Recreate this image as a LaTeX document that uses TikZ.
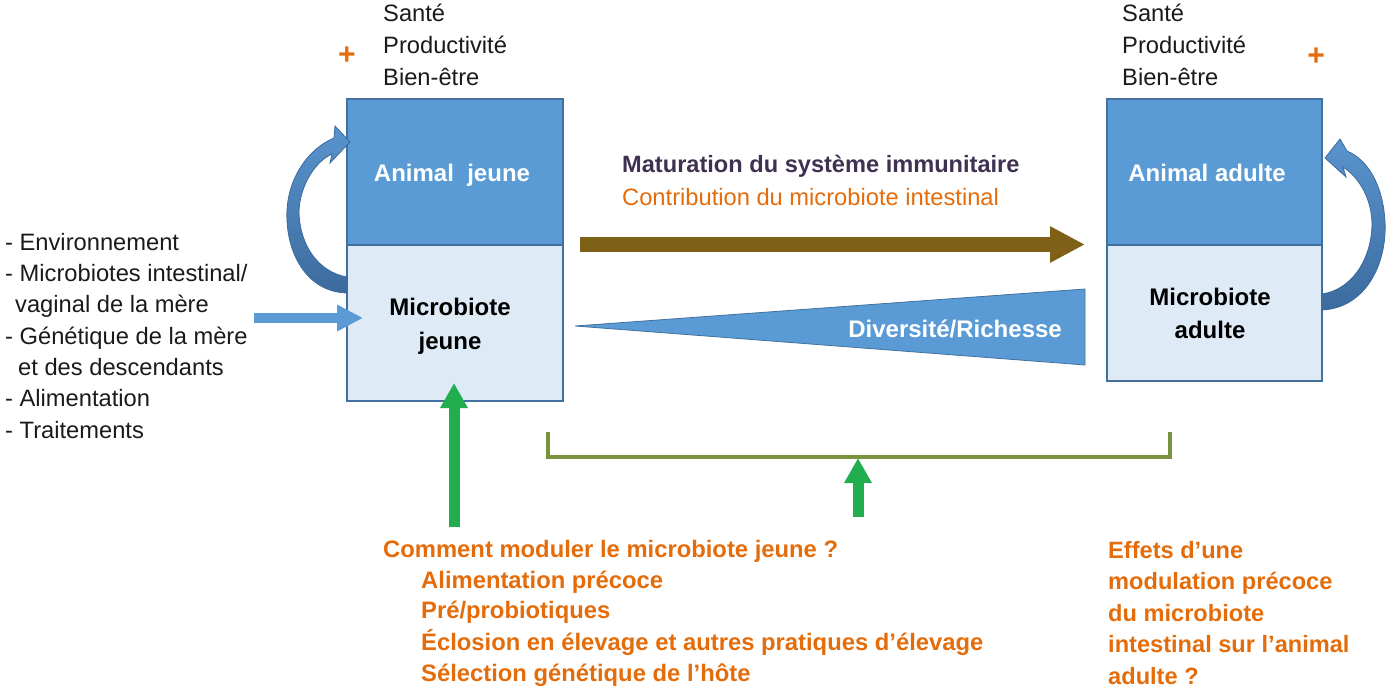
\documentclass[tikz,border=0pt]{standalone}
\usepackage{fontspec}
\setmainfont{Liberation Sans}
\usetikzlibrary{arrows.meta}
\definecolor{boxdark}{HTML}{5B9BD5}
\definecolor{boxlight}{HTML}{DEEBF7}
\definecolor{boxline}{HTML}{41719C}
\definecolor{orng}{HTML}{E46C0A}
\definecolor{purp}{HTML}{3F3151}
\definecolor{brwn}{HTML}{7F6017}
\definecolor{grn}{HTML}{22AE4E}
\definecolor{olivegr}{HTML}{77933C}
\definecolor{txt}{HTML}{1A1A1A}
\definecolor{curvetop}{HTML}{5A94CE}
\definecolor{curvebot}{HTML}{3C6B9E}
\begin{document}
\begin{tikzpicture}[x=1pt,y=-1pt,
  tx/.style={anchor=base west, inner sep=0, text=txt, font=\fontsize{23.7}{29}\selectfont},
  txb/.style={anchor=base west, inner sep=0, font=\fontsize{23.6}{29}\selectfont\bfseries},
  txo/.style={anchor=base west, inner sep=0, text=orng, font=\fontsize{23.8}{29}\selectfont\bfseries},
  txc/.style={anchor=base, inner sep=0, font=\fontsize{24}{29}\selectfont\bfseries},
  boxtop/.style={draw=boxline, line width=1.5, fill=boxdark, inner sep=0},
  boxbot/.style={draw=boxline, line width=1.5, fill=boxlight, inner sep=0},
  curvearrow/.style={top color=curvetop, bottom color=curvebot, draw=curvebot, line width=0.8},
  plussign/.style={anchor=center, inner sep=0, text=orng, font=\fontsize{30}{30}\selectfont\bfseries},
  greenarrow/.style={draw=grn, line width=11, -{Triangle[length=25pt,width=26pt]}}
]
\useasboundingbox (0,0) rectangle (1388,693);

% ---------- boxes ----------
\node[boxtop, minimum width=216, minimum height=146] (ajt) at (455,172) {};
\node[boxbot, minimum width=216, minimum height=156] (ajb) at (455,323) {};
\node[boxtop, minimum width=215, minimum height=146] (aat) at (1214.5,172) {};
\node[boxbot, minimum width=215, minimum height=136] (aab) at (1214.5,313) {};

\node[txc, text=white] (tajt) at (452,181.5) {Animal~ jeune};
\node[txc, text=black] (tajb1) at (450,315.5) {Microbiote};
\node[txc, text=black] (tajb2) at (450,349.5) {jeune};
\node[txc, text=white] (taat) at (1207,181.5) {Animal adulte};
\node[txc, text=black] (taab1) at (1210,305.5) {Microbiote};
\node[txc, text=black] (taab2) at (1210,338.5) {adulte};

% ---------- Santé blocks ----------
\node[tx] (s1) at (383,21.5) {Santé};
\node[tx] (s2) at (383,53.5) {Productivité};
\node[tx] (s3) at (383,85.5) {Bien-être};
\node[tx] (r1) at (1122,21.5) {Santé};
\node[tx] (r2) at (1122,53.5) {Productivité};
\node[tx] (r3) at (1122,85.5) {Bien-être};
\node[plussign] (p1) at (347,56) {+};
\node[plussign] (p2) at (1316,57) {+};

% ---------- curved arrows ----------
\path[curvearrow] (347,293) .. controls (305,292) and (285,250) .. (287,210)
  .. controls (289,175) and (310,148) .. (334,138)
  -- (335,126) -- (350,142) -- (330,163) -- (332,154)
  .. controls (314,162) and (299,188) .. (299,213)
  .. controls (300,245) and (318,272) .. (347,277) -- cycle;
\path[curvearrow] (1322,310) .. controls (1365,308) and (1387,265) .. (1385,222)
  .. controls (1383,185) and (1368,160) .. (1347,151)
  -- (1340,139) -- (1325,158) -- (1346,177) -- (1343,167)
  .. controls (1360,178) and (1372,200) .. (1372,225)
  .. controls (1371,262) and (1350,290) .. (1322,294) -- cycle;

% ---------- left list ----------
\node[tx] (l1) at (5,250.5) {- Environnement};
\node[tx] (l2) at (5,281.5) {- Microbiotes intestinal/};
\node[tx] (l3) at (15,312.5) {vaginal de la mère};
\node[tx] (l4) at (5,344.5) {- Génétique de la mère};
\node[tx] (l5) at (18,375.5) {et des descendants};
\node[tx] (l6) at (5,406.5) {- Alimentation};
\node[tx] (l7) at (5,438.5) {- Traitements};

\coordinate (bls) at (254,318);
\coordinate (blt) at (363,318);
\draw[boxdark, line width=10, -{Triangle[length=26pt,width=25pt]}] (bls) -- (blt);

% ---------- middle ----------
\node[txb, text=purp] (mat) at (622,172.5) {Maturation du système immunitaire};
\node[tx, text=orng] (con) at (622,205.5) {Contribution du microbiote intestinal};

\coordinate (brs) at (580,244.5);
\coordinate (brt) at (1085,244.5);
\draw[brwn, line width=15, -{Triangle[length=35pt,width=34pt]}] (brs) -- (brt);

\fill[boxdark, draw=boxline, line width=0.8] (575,326) -- (1085,289) -- (1085,365) -- cycle;
\node[anchor=base east, inner sep=0, text=white, font=\fontsize{24}{29}\selectfont\bfseries] (div) at (1062,337.5) {Diversité/Richesse};

% ---------- bracket and green arrows ----------
\coordinate (bk1) at (548,432);
\coordinate (bk2) at (548,457);
\coordinate (bk3) at (1170,457);
\coordinate (bk4) at (1170,432);
\draw[olivegr, line width=3.5] (bk1) -- (bk2) -- (bk3) -- (bk4);

\coordinate (g1s) at (454,527);
\coordinate (g1t) at (454,383);
\draw[greenarrow] (g1s) -- (g1t);
\coordinate (g2s) at (858,517);
\coordinate (g2t) at (858,458);
\draw[greenarrow] (g2s) -- (g2t);

% ---------- bottom texts ----------
\node[txo] (b1) at (383,557.5) {Comment moduler le microbiote jeune ?};
\node[txo] (b2) at (421,588.5) {Alimentation précoce};
\node[txo] (b3) at (421,618.5) {Pré/probiotiques};
\node[txo] (b4) at (421,650.5) {Éclosion en élevage et autres pratiques d’élevage};
\node[txo] (b5) at (421,681.5) {Sélection génétique de l’hôte};

\node[txb, text=orng] (e1) at (1108,558.5) {Effets d’une};
\node[txb, text=orng] (e2) at (1108,589.5) {modulation précoce};
\node[txb, text=orng] (e3) at (1108,621.5) {du microbiote};
\node[txb, text=orng] (e4) at (1108,652.5) {intestinal sur l’animal};
\node[txb, text=orng] (e5) at (1108,684.5) {adulte ?};
\end{tikzpicture}
\end{document}
